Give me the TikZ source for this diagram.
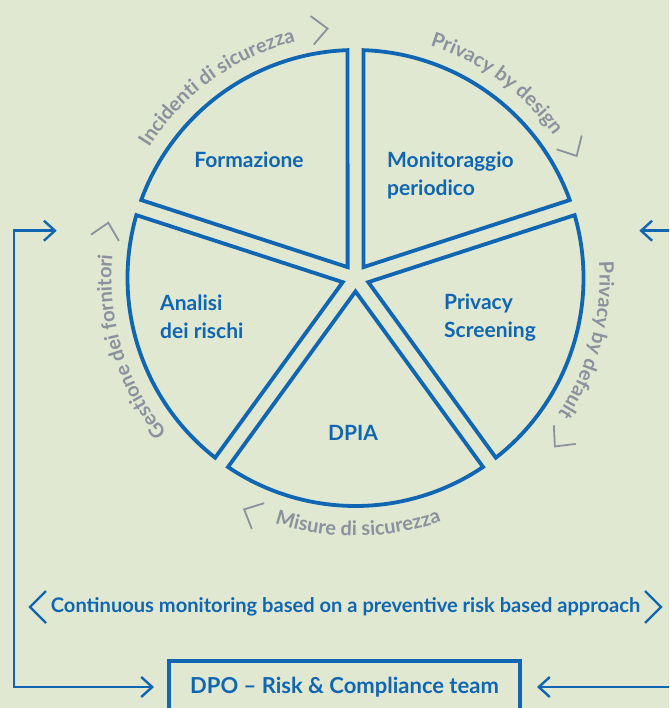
\documentclass[tikz,border=0pt]{standalone}
\usepackage{fontspec}
\setmainfont{Lato}
\usetikzlibrary{decorations.text,arrows.meta,calc}
\definecolor{bgc}{HTML}{E0E8D2}
\definecolor{bluec}{HTML}{1066B2}
\definecolor{grayc}{HTML}{8A929D}
\begin{document}
\begin{tikzpicture}[x=1pt,y=1pt,
  wedge/.style={draw=bluec, line width=3.8pt, line join=miter},
  lbl/.style={text=bluec, font=\bfseries\fontsize{21}{28}\selectfont, inner sep=0pt},
  chev/.style={draw=grayc, line width=1.8pt},
  bchev/.style={draw=bluec, line width=2.2pt},
  arctext/.style={decorate, decoration={text along path, text align=center, text color=grayc,
     text={|\bfseries\fontsize{20}{22}\selectfont|#1}}},
  arr/.style={draw=bluec, line width=2.4pt},
  barb/.tip={Straight Barb[length=11pt,width=20pt]}
]
\useasboundingbox (0,0) rectangle (669,-708);
\clip (0,0) rectangle (669,-708);
\fill[bgc] (0,0) rectangle (669,-708);

\coordinate (C) at (355.5,-278);
\begin{scope}[shift={(C)}]
  % wedges
  \draw[wedge] (126:13.44) -- (160.01:228) arc[start angle=160.01, end angle=91.99, radius=228pt] -- cycle;
  \draw[wedge] (54:13.44) -- (88.01:228) arc[start angle=88.01, end angle=19.99, radius=228pt] -- cycle;
  \draw[wedge] (-18:13.44) -- (16.01:228) arc[start angle=16.01, end angle=-52.01, radius=228pt] -- cycle;
  \draw[wedge] (-90:13.44) -- (-55.99:228) arc[start angle=-55.99, end angle=-124.01, radius=228pt] -- cycle;
  \draw[wedge] (-162:13.44) -- (-127.99:228) arc[start angle=-127.99, end angle=-196.01, radius=228pt] -- cycle;

  % arc texts
  \path[arctext={Incidenti di sicurezza}] (166:244) arc[start angle=166, end angle=86, radius=244pt];
  \path[arctext={Privacy by design}] (94:244) arc[start angle=94, end angle=14, radius=244pt];
  \path[arctext={Privacy by default}] (25:244) arc[start angle=25, end angle=-55, radius=244pt];
  \path[arctext={Gestione dei fornitori}] (237:244) arc[start angle=237, end angle=157, radius=244pt];
  \path[arctext={Misure di sicurezza}] (-129.4:258) arc[start angle=-129.4, end angle=-49.4, radius=258pt];

  % chevrons
  \draw[chev, shift={(96.4:251)}, rotate=6.4] (-15.4,14.3) -- (0,0) -- (-15.4,-14.3);
  \draw[chev, shift={(28.9:252.6)}, rotate=-61.1] (-15.4,14.3) -- (0,0) -- (-15.4,-14.3);
  \draw[chev, shift={(-40.2:261)}, rotate=-130.2] (-15.4,14.3) -- (0,0) -- (-15.4,-14.3);
  \draw[chev, shift={(-115.7:256.8)}, rotate=-205.7] (-15.4,14.3) -- (0,0) -- (-15.4,-14.3);
  \draw[chev, shift={(167.4:253.3)}, rotate=77.4] (-15.4,14.3) -- (0,0) -- (-15.4,-14.3);
\end{scope}

% wedge labels
\node[lbl] (form) at (249,-160) {Formazione};
\node[lbl, align=left, anchor=west] (moni) at (387,-175) {Monitoraggio\\periodico};
\node[lbl, align=left, anchor=west] (anal) at (160,-317) {Analisi\\dei rischi};
\node[lbl, align=left, anchor=west] (scr) at (444,-318) {Privacy\\Screening};
\node[lbl] (dpia) at (353,-433) {DPIA};

% continuous monitoring
\node[text=bluec, font=\bfseries\fontsize{20.1}{22}\selectfont, inner sep=0pt] (cont) at (345.5,-607)
  {Continuous monitoring based on a preventive risk based approach};
\draw[bchev] (46,-591) -- (30,-607) -- (46,-623);
\draw[bchev] (645,-591) -- (661,-607) -- (645,-623);

% DPO box
\node[draw=bluec, line width=4pt, minimum width=351pt, minimum height=52pt, inner sep=0pt,
      text=bluec, font=\bfseries\fontsize{22}{24}\selectfont] (dpo) at (344.5,-687)
  {DPO – Risk \& Compliance team};

% loop arrows
\coordinate (tl) at (56.7,-230.7);
\coordinate (tr) at (639.3,-230.7);
\coordinate (rt0) at (675,-230.7);
\coordinate (rb0) at (675,-687);
\draw[arr, {barb}-{barb}, shorten >=13pt] (tl) -- (14,-230.7) |- (dpo.west);
\draw[arr, -{barb}] (rt0) -- (tr);
\draw[arr, -{barb}, shorten >=15pt] (rb0) -- (dpo.east);
\end{tikzpicture}
\end{document}
